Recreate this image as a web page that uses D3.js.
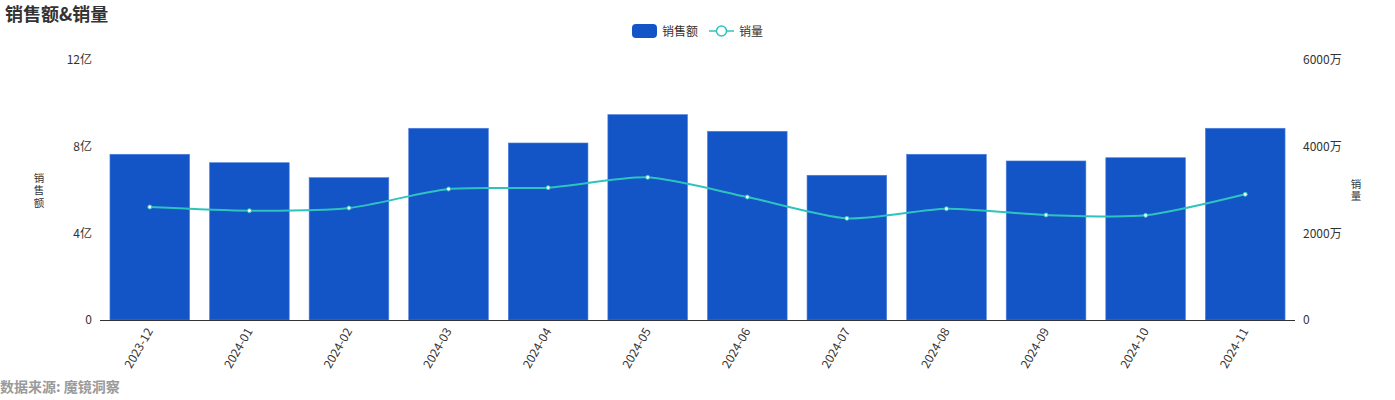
<!DOCTYPE html>
<html>
<head>
<meta charset="utf-8">
<script src="https://cdn.jsdelivr.net/npm/d3@7"></script>
<style>
  body { margin: 0; background: #fff; font-family: "Noto Sans CJK SC", "Noto Sans", sans-serif; }
</style>
</head>
<body>
<div id="chart"></div>
<script>
// data
var months = ["2023-12","2024-01","2024-02","2024-03","2024-04","2024-05","2024-06","2024-07","2024-08","2024-09","2024-10","2024-11"];
var salesAmount = [7.65, 7.26, 6.57, 8.85, 8.17, 9.48, 8.71, 6.68, 7.65, 7.34, 7.49, 8.85]; // 亿
var salesVolume = [2608, 2523, 2585, 3023, 3054, 3292, 2838, 2346, 2569, 2423, 2415, 2900]; // 万
var leftTicks = [0, 4, 8, 12];
var rightTicks = [0, 2000, 4000, 6000];

var width = 1395, height = 400;
var pLeft = 100, pRight = 1295, pTop = 60, pBottom = 320;
var barColor = "#1354c6", lineColor = "#2ec4bd", textColor = "#333";

var svg = d3.select("#chart").append("svg")
  .attr("width", width)
  .attr("height", height);

var x = d3.scaleBand().domain(months).range([pLeft, pRight]).paddingInner(0.2).paddingOuter(0.1);
var yL = d3.scaleLinear().domain([0, 12]).range([pBottom, pTop]);
var yR = d3.scaleLinear().domain([0, 6000]).range([pBottom, pTop]);

// title
svg.append("text")
  .attr("x", 5).attr("y", 21)
  .attr("font-size", 18).attr("font-weight", "bold").attr("fill", textColor)
  .text("销售额&销量");

// bars
svg.selectAll("rect.bar")
  .data(months)
  .enter().append("rect")
  .attr("class", "bar")
  .attr("x", function(d){ return x(d); })
  .attr("width", x.bandwidth())
  .attr("y", function(d, i){ return yL(salesAmount[i]); })
  .attr("height", function(d, i){ return pBottom - yL(salesAmount[i]); })
  .attr("fill", barColor)
  .attr("stroke", "#4f82dc")
  .attr("stroke-width", 0.6);

// axes
var axisL = svg.append("g").attr("transform", "translate(" + pLeft + ",0)")
  .call(d3.axisLeft(yL).tickValues(leftTicks).tickSize(0).tickPadding(8)
    .tickFormat(function(d){ return d === 0 ? "0" : d + "亿"; }));
axisL.select(".domain").remove();

var axisR = svg.append("g").attr("transform", "translate(" + pRight + ",0)")
  .call(d3.axisRight(yR).tickValues(rightTicks).tickSize(0).tickPadding(8)
    .tickFormat(function(d){ return d === 0 ? "0" : d + "万"; }));
axisR.select(".domain").remove();

var axisB = svg.append("g").attr("transform", "translate(0," + pBottom + ")")
  .call(d3.axisBottom(x).tickSize(0));
axisB.select(".domain").attr("stroke", "#333").attr("d", "M" + pLeft + ",0.5H" + pRight);
axisB.selectAll("text")
  .attr("x", 0).attr("y", 0)
  .attr("text-anchor", "end")
  .attr("dx", 0).attr("dy", "0.35em")
  .attr("transform", "translate(0,9) rotate(-60)");

svg.selectAll(".tick text")
  .attr("font-size", 12)
  .attr("font-family", "'Noto Sans CJK SC', sans-serif")
  .attr("fill", textColor);

// axis titles, one character per line
function vtitle(cx, cy, str){
  var chars = str.split("");
  var t = svg.append("text").attr("font-size", 10.5).attr("fill", textColor).attr("text-anchor", "middle");
  chars.forEach(function(c, i){
    t.append("tspan").attr("x", cx).attr("y", cy + (i - (chars.length - 1) / 2) * 12.5 + 4).text(c);
  });
}
vtitle(39, 190, "销售额");
vtitle(1356, 190, "销量");

// line
var line = d3.line()
  .x(function(d, i){ return x(months[i]) + x.bandwidth() / 2; })
  .y(function(d){ return yR(d); })
  .curve(d3.curveCardinal.tension(0.3));

svg.append("path")
  .datum(salesVolume)
  .attr("d", line)
  .attr("fill", "none")
  .attr("stroke", lineColor)
  .attr("stroke-width", 2);

svg.selectAll("circle.pt")
  .data(salesVolume)
  .enter().append("circle")
  .attr("class", "pt")
  .attr("cx", function(d, i){ return x(months[i]) + x.bandwidth() / 2; })
  .attr("cy", function(d){ return yR(d); })
  .attr("r", 2)
  .attr("fill", "#fff")
  .attr("stroke", lineColor)
  .attr("stroke-width", 1);

// legend
var lg = svg.append("g");
lg.append("rect").attr("x", 632).attr("y", 24).attr("width", 25).attr("height", 14).attr("rx", 4).attr("fill", barColor);
lg.append("text").attr("x", 662).attr("y", 35.5).attr("font-size", 12).attr("fill", textColor).text("销售额");
lg.append("line").attr("x1", 709).attr("x2", 734).attr("y1", 31).attr("y2", 31).attr("stroke", lineColor).attr("stroke-width", 1.5);
lg.append("circle").attr("cx", 721.5).attr("cy", 31).attr("r", 5).attr("fill", "#fff").attr("stroke", lineColor).attr("stroke-width", 1.5);
lg.append("text").attr("x", 739).attr("y", 35.5).attr("font-size", 12).attr("fill", textColor).text("销量");

// source
svg.append("text")
  .attr("x", 0).attr("y", 392)
  .attr("font-size", 14).attr("font-weight", "bold").attr("fill", "#9a9a9a")
  .text("数据来源: 魔镜洞察");
</script>
</body>
</html>
